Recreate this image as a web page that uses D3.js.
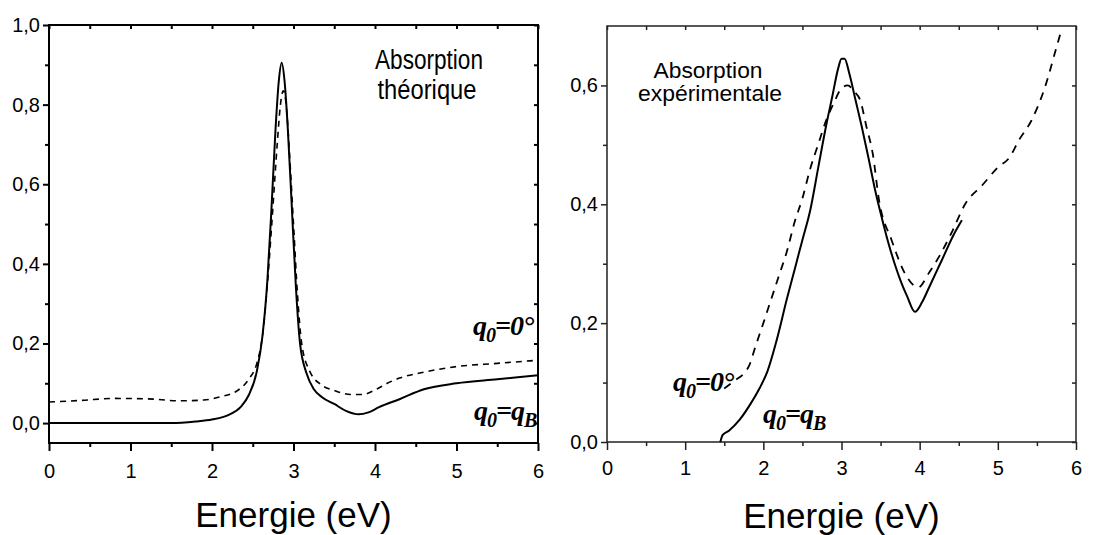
<!DOCTYPE html>
<html>
<head>
<meta charset="utf-8">
<script src="https://cdn.jsdelivr.net/npm/d3@7"></script>
<style>
  body { margin: 0; background: #fff; }
  text { font-family: "Liberation Sans", Arial, sans-serif; fill: #000; }
  .q { font-family: "Liberation Serif", "Times New Roman", serif; font-weight: bold; font-style: italic; }
</style>
</head>
<body>
<script>
// values: [energie eV, absorption]
var theoSolid = [[0,0],[1.5,0],[1.8,0.004],[2.0,0.009],[2.2,0.02],[2.35,0.04],[2.45,0.07],[2.55,0.13],[2.62,0.22],
  [2.68,0.36],[2.73,0.54],[2.78,0.74],[2.82,0.86],[2.855,0.905],[2.89,0.86],[2.93,0.74],[2.98,0.54],[3.03,0.34],
  [3.08,0.2],[3.16,0.125],[3.25,0.085],[3.35,0.065],[3.5,0.048],[3.65,0.03],[3.8,0.022],[3.92,0.027],[4.05,0.04],
  [4.3,0.06],[4.6,0.085],[5.0,0.1],[5.5,0.11],[6.0,0.12]];
var theoDashed = [[0,0.053],[0.4,0.057],[0.8,0.062],[1.2,0.061],[1.6,0.056],[1.9,0.058],[2.1,0.066],[2.3,0.08],
  [2.45,0.11],[2.55,0.15],[2.62,0.22],[2.68,0.35],[2.74,0.52],[2.8,0.7],[2.84,0.8],[2.875,0.835],[2.91,0.8],
  [2.95,0.68],[3.0,0.5],[3.05,0.32],[3.1,0.2],[3.2,0.13],[3.35,0.095],[3.5,0.082],[3.7,0.072],[3.85,0.072],
  [4.0,0.083],[4.15,0.1],[4.3,0.113],[4.6,0.128],[5.0,0.142],[5.5,0.15],[6.0,0.158]];
var expSolid = [[1.45,0.0],[1.48,0.012],[1.56,0.019],[1.7,0.038],[1.84,0.065],[1.95,0.09],[2.05,0.118],[2.17,0.171],
  [2.3,0.24],[2.4,0.29],[2.5,0.34],[2.6,0.39],[2.7,0.46],[2.8,0.53],[2.88,0.58],[2.96,0.63],[3.0,0.645],[3.04,0.645],
  [3.1,0.62],[3.18,0.575],[3.26,0.53],[3.35,0.475],[3.44,0.418],[3.52,0.375],[3.6,0.335],[3.68,0.3],[3.76,0.27],
  [3.84,0.245],[3.94,0.219],[4.03,0.235],[4.12,0.26],[4.28,0.305],[4.44,0.35],[4.54,0.373]];
var expDashed = [[1.5,0.09],[1.64,0.104],[1.75,0.115],[1.82,0.129],[1.9,0.161],[2.0,0.2],[2.1,0.24],[2.2,0.28],
  [2.3,0.32],[2.4,0.37],[2.5,0.41],[2.6,0.46],[2.7,0.5],[2.8,0.54],[2.9,0.57],[3.0,0.595],[3.08,0.6],[3.16,0.59],
  [3.24,0.575],[3.32,0.53],[3.4,0.485],[3.48,0.407],[3.64,0.34],[3.84,0.277],[3.98,0.26],[4.12,0.285],[4.27,0.317],
  [4.4,0.35],[4.59,0.402],[4.8,0.432],[5.0,0.462],[5.15,0.479],[5.27,0.508],[5.43,0.541],[5.59,0.592],[5.75,0.664],[5.8,0.687]];

var xMajor = [0,1,2,3,4,5,6];
var xMinor = [0.5,1.5,2.5,3.5,4.5,5.5];
var yMajorTheo = [0,0.2,0.4,0.6,0.8,1.0];
var yMinorTheo = [0.1,0.3,0.5,0.7,0.9];
var yMajorExp = [0,0.2,0.4,0.6];
var yMinorExp = [0.1,0.3,0.5];

var svg = d3.select('body').append('svg')
    .attr('width', 1101)
    .attr('height', 535);

var fmt = function(d){ return d3.format('.1f')(d).replace('.', ','); };

function panel(opt){
    var x = d3.scaleLinear().domain([0,6]).range([opt.x0, opt.x1]);
    var y = d3.scaleLinear().domain(opt.ydom).range([opt.y1, opt.y0]);
    var g = svg.append('g');
    var sw = opt.sw;

    // minor + major ticks, outward on left/bottom, inward on top/right
    function ax(axis, tr, vals, size, pad, lab){
        var a = axis(tr.s).tickValues(vals).tickSizeOuter(0).tickSize(size).tickPadding(pad)
            .tickFormat(lab ? lab : function(){ return ''; });
        var gg = g.append('g').attr('transform', tr.t).call(a)
            .attr('font-size', 20).attr('font-family', null);
        gg.select('.domain').remove();
        gg.selectAll('line').attr('stroke', opt.col).attr('stroke-width', sw);
        return gg;
    }
    ax(d3.axisBottom, {s:x, t:'translate(0,'+opt.y1+')'}, xMajor, 8, opt.xpad, function(d){ return d; });
    ax(d3.axisBottom, {s:x, t:'translate(0,'+opt.y1+')'}, xMinor, 4, 0);
    ax(d3.axisLeft, {s:y, t:'translate('+opt.x0+',0)'}, opt.yMajor, 6, 3, fmt);
    ax(d3.axisLeft, {s:y, t:'translate('+opt.x0+',0)'}, opt.yMinor, 4, 0);
    ax(d3.axisTop, {s:x, t:'translate(0,'+opt.y0+')'}, xMajor.concat(xMinor), -4, 0);
    ax(d3.axisRight, {s:y, t:'translate('+opt.x1+',0)'}, opt.yMajor.concat(opt.yMinor), -4, 0);

    g.append('rect')
        .attr('x', opt.x0).attr('y', opt.y0)
        .attr('width', opt.x1 - opt.x0).attr('height', opt.y1 - opt.y0)
        .attr('fill', 'none').attr('stroke', opt.col).attr('stroke-width', sw);

    var line = d3.line()
        .x(function(d){ return x(d[0]); })
        .y(function(d){ return y(d[1]); })
        .curve(d3.curveMonotoneX);

    g.append('path').datum(opt.dashed).attr('d', line)
        .attr('fill', 'none').attr('stroke', '#000').attr('stroke-width', opt.dashW)
        .attr('stroke-dasharray', opt.dash);
    g.append('path').datum(opt.solid).attr('d', line)
        .attr('fill', 'none').attr('stroke', '#000').attr('stroke-width', 2);

    g.append('text').attr('x', (opt.x0 + opt.x1) / 2).attr('y', opt.titleY)
        .attr('text-anchor', 'middle').style('font-size', '35px').text('Energie (eV)');
    return g;
}

var left = panel({x0:49, x1:538, y0:25, y1:443, ydom:[-0.05,1.0], sw:2, col:'#000', xpad:13,
    yMajor:yMajorTheo, yMinor:yMinorTheo, solid:theoSolid, dashed:theoDashed, dash:'6,5', dashW:1.6, titleY:527});
var right = panel({x0:607, x1:1076, y0:26, y1:442, ydom:[0,0.7], sw:1.5, col:'#222', xpad:11,
    yMajor:yMajorExp, yMinor:yMinorExp, solid:expSolid, dashed:expDashed, dash:'8,7', dashW:1.8, titleY:528});

// annotations
function note(cx, y, size, txt, len){
    svg.append('text').attr('x', cx).attr('y', y).attr('text-anchor', 'middle')
        .attr('textLength', len).attr('lengthAdjust', 'spacingAndGlyphs')
        .style('font-size', size + 'px').text(txt);
}
note(429, 69, 27, 'Absorption', 108);
note(427, 99, 27, 'théorique', 99);
note(708, 78, 22, 'Absorption', 109);
note(710, 101, 22, 'expérimentale', 144);

function qlab(x, y, end){
    var t = svg.append('text').attr('class', 'q').attr('x', x).attr('y', y)
        .style('font-size', '28px').style('letter-spacing', '-1px');
    t.append('tspan').text('q');
    t.append('tspan').attr('dy', 7).style('font-size', '20px').text('0');
    if (end === 'B') {
        t.append('tspan').attr('dy', -7).text('=q');
        t.append('tspan').attr('dy', 7).style('font-size', '20px').text('B');
    } else {
        t.append('tspan').attr('dy', -7).text('=0°');
    }
}
qlab(473, 335, '0');
qlab(474, 420, 'B');
qlab(673, 391, '0');
qlab(763, 423, 'B');
</script>
</body>
</html>
